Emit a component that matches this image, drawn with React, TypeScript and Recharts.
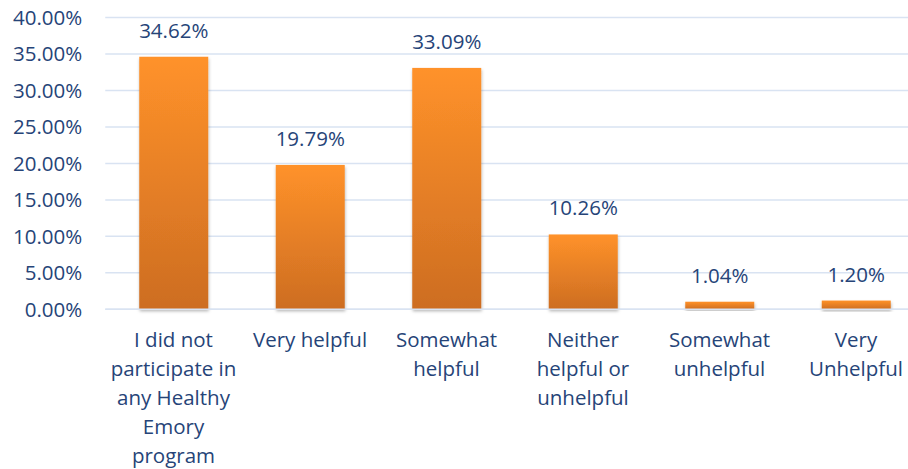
import React from "react";
import { BarChart, Bar, XAxis, YAxis, CartesianGrid, LabelList } from "recharts";

const categories = [
  "I did not\nparticipate in\nany Healthy\nEmory\nprogram",
  "Very helpful",
  "Somewhat\nhelpful",
  "Neither\nhelpful or\nunhelpful",
  "Somewhat\nunhelpful",
  "Very\nUnhelpful",
];
const values = [34.62, 19.79, 33.09, 10.26, 1.04, 1.2];
const yTicks = [0, 5, 10, 15, 20, 25, 30, 35, 40];

const data = categories.map((c, i) => ({ name: c, value: values[i] }));

const TEXT = "#264478";
const GRID = "#D9E3F2";
const FONT = "'Open Sans', sans-serif";
const FS = 20.5;

const XTick = (props: any) => {
  const { x, y, payload } = props;
  const lines = String(payload.value).split("\n");
  return (
    <text x={x} y={y} textAnchor="middle" fill={TEXT} fontFamily={FONT} fontSize={FS}>
      {lines.map((l: string, i: number) => (
        <tspan key={i} x={x} dy={i === 0 ? 38 : 29}>
          {l}
        </tspan>
      ))}
    </text>
  );
};

const BarShape = (props: any) => {
  const { x, y, width, height } = props;
  if (!height || height <= 0) return null;
  return <rect x={x} y={y} width={width} height={height} fill="url(#barGrad)" filter="url(#barShadow)" />;
};

export default function App() {
  return (
    <div style={{ position: "fixed", left: 0, top: 0, width: 908, height: 469, overflow: "hidden", background: "#fff" }}>
      <BarChart
        width={930}
        height={469}
        data={data}
        margin={{ top: 17.5, right: 5.75, bottom: 0, left: 0 }}
      >
        <defs>
          <linearGradient id="barGrad" x1="0" y1="0" x2="0" y2="1">
            <stop offset="0%" stopColor="#FF922A" />
            <stop offset="100%" stopColor="#CD6D22" />
          </linearGradient>
          <filter id="barShadow" x="-20%" y="-20%" width="140%" height="140%">
            <feDropShadow dx="0.5" dy="2" stdDeviation="1.8" floodColor="#000" floodOpacity="0.28" />
          </filter>
        </defs>
        <CartesianGrid horizontal vertical={false} stroke={GRID} strokeWidth={1.5} />
        <XAxis
          dataKey="name"
          interval={0}
          height={159.7}
          tickLine={false}
          tickSize={0}
          tickMargin={0}
          axisLine={{ stroke: GRID, strokeWidth: 1.5 }}
          tick={<XTick />}
        />
        <YAxis
          width={105.25}
          domain={[0, 40]}
          ticks={yTicks}
          axisLine={false}
          tickLine={false}
          tickSize={0}
          tickMargin={23}
          tickFormatter={(v: number) => `${v.toFixed(2)}%`}
          tick={{ fill: TEXT, fontFamily: FONT, fontSize: FS }}
        />
        <Bar dataKey="value" barSize={69} isAnimationActive={false} shape={<BarShape />}>
          <LabelList
            dataKey="value"
            position="top"
            offset={19}
            formatter={(v: number) => `${v.toFixed(2)}%`}
            fill={TEXT}
            fontFamily={FONT}
            fontSize={FS}
          />
        </Bar>
      </BarChart>
    </div>
  );
}
